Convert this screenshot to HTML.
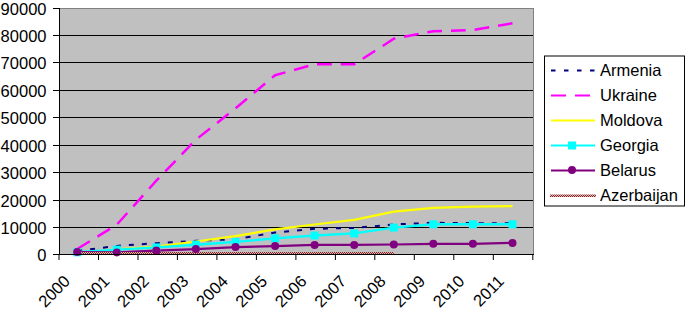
<!DOCTYPE html>
<html><head><meta charset="utf-8"><style>
html,body{margin:0;padding:0;background:#fff;}
body{width:685px;height:311px;overflow:hidden;}
svg{display:block;}
text{font-family:"Liberation Sans",sans-serif;font-size:16.5px;fill:#000;}
</style></head><body>
<svg width="685" height="311" viewBox="0 0 685 311">
<defs>
<pattern id="az" width="2" height="2" patternUnits="userSpaceOnUse">
<rect width="2" height="2" fill="#e8b0b0"/><rect width="1" height="1" fill="#7a2a2a"/><rect x="1" y="1" width="1" height="1" fill="#7a2a2a"/>
</pattern>
</defs>

<rect x="59.5" y="8.5" width="474" height="246" fill="#c0c0c0" stroke="#808080" stroke-width="1"/>
<line x1="59" y1="227.5" x2="533" y2="227.5" stroke="#000" stroke-width="1"/>
<line x1="59" y1="200.5" x2="533" y2="200.5" stroke="#000" stroke-width="1"/>
<line x1="59" y1="172.5" x2="533" y2="172.5" stroke="#000" stroke-width="1"/>
<line x1="59" y1="145.5" x2="533" y2="145.5" stroke="#000" stroke-width="1"/>
<line x1="59" y1="117.5" x2="533" y2="117.5" stroke="#000" stroke-width="1"/>
<line x1="59" y1="90.5" x2="533" y2="90.5" stroke="#000" stroke-width="1"/>
<line x1="59" y1="62.5" x2="533" y2="62.5" stroke="#000" stroke-width="1"/>
<line x1="59" y1="35.5" x2="533" y2="35.5" stroke="#000" stroke-width="1"/>
<line x1="53" y1="254.5" x2="59" y2="254.5" stroke="#000" stroke-width="1"/>
<text x="46.5" y="260.8" text-anchor="end">0</text>
<line x1="53" y1="227.5" x2="59" y2="227.5" stroke="#000" stroke-width="1"/>
<text x="46.5" y="233.8" text-anchor="end">10000</text>
<line x1="53" y1="200.5" x2="59" y2="200.5" stroke="#000" stroke-width="1"/>
<text x="46.5" y="206.8" text-anchor="end">20000</text>
<line x1="53" y1="172.5" x2="59" y2="172.5" stroke="#000" stroke-width="1"/>
<text x="46.5" y="178.8" text-anchor="end">30000</text>
<line x1="53" y1="145.5" x2="59" y2="145.5" stroke="#000" stroke-width="1"/>
<text x="46.5" y="151.8" text-anchor="end">40000</text>
<line x1="53" y1="117.5" x2="59" y2="117.5" stroke="#000" stroke-width="1"/>
<text x="46.5" y="123.8" text-anchor="end">50000</text>
<line x1="53" y1="90.5" x2="59" y2="90.5" stroke="#000" stroke-width="1"/>
<text x="46.5" y="96.8" text-anchor="end">60000</text>
<line x1="53" y1="62.5" x2="59" y2="62.5" stroke="#000" stroke-width="1"/>
<text x="46.5" y="68.8" text-anchor="end">70000</text>
<line x1="53" y1="35.5" x2="59" y2="35.5" stroke="#000" stroke-width="1"/>
<text x="46.5" y="41.8" text-anchor="end">80000</text>
<line x1="53" y1="8.5" x2="59" y2="8.5" stroke="#000" stroke-width="1"/>
<text x="46.5" y="14.8" text-anchor="end">90000</text>
<polyline points="77.2,250.9 116.8,245.9 156.3,243.2 195.9,240.8 235.5,239.2 275.1,232.6 314.6,228.8 354.2,228.0 393.8,224.4 433.3,222.8 472.9,223.1 512.5,223.3" fill="none" stroke="#000080" stroke-width="2" stroke-dasharray="5 8"/>
<polyline points="77.2,249.0 116.8,224.7 156.3,180.7 195.9,139.7 235.5,108.3 275.1,75.2 314.6,64.3 354.2,64.3 393.8,38.8 433.3,31.2 472.9,30.1 512.5,23.3" fill="none" stroke="#ff00ff" stroke-width="2.5" stroke-dasharray="14.8 8.9"/>
<polyline points="77.2,253.4 116.8,249.3 156.3,246.6 195.9,241.5 235.5,236.1 275.1,229.4 314.6,224.5 354.2,219.9 393.8,211.6 433.3,207.9 472.9,206.6 512.5,206.1" fill="none" stroke="#ffff00" stroke-width="2.2"/>
<polyline points="77.2,252.3 116.8,249.6 156.3,247.4 195.9,244.7 235.5,241.9 275.1,238.4 314.6,235.5 354.2,233.4 393.8,227.6 433.3,224.3 472.9,224.3 512.5,224.3" fill="none" stroke="#00ffff" stroke-width="2.4"/>
<polyline points="77.2,252.1 116.8,252.4 156.3,250.6 195.9,249.1 235.5,247.1 275.1,246.1 314.6,244.9 354.2,244.9 393.8,244.5 433.3,243.8 472.9,243.8 512.5,242.9" fill="none" stroke="#800080" stroke-width="2.2"/>
<polyline points="77.2,252.9 116.8,252.9 156.3,252.9 195.9,252.9 235.5,252.9 275.1,252.9 314.6,252.9 354.2,252.9 393.8,252.9" fill="none" stroke="url(#az)" stroke-width="2"/>
<rect x="73.2" y="248.3" width="8" height="8" fill="#00ffff"/>
<rect x="112.8" y="245.6" width="8" height="8" fill="#00ffff"/>
<rect x="152.3" y="243.4" width="8" height="8" fill="#00ffff"/>
<rect x="191.9" y="240.7" width="8" height="8" fill="#00ffff"/>
<rect x="231.5" y="237.9" width="8" height="8" fill="#00ffff"/>
<rect x="271.1" y="234.4" width="8" height="8" fill="#00ffff"/>
<rect x="310.6" y="231.5" width="8" height="8" fill="#00ffff"/>
<rect x="350.2" y="229.4" width="8" height="8" fill="#00ffff"/>
<rect x="389.8" y="223.6" width="8" height="8" fill="#00ffff"/>
<rect x="429.3" y="220.3" width="8" height="8" fill="#00ffff"/>
<rect x="468.9" y="220.3" width="8" height="8" fill="#00ffff"/>
<rect x="508.5" y="220.3" width="8" height="8" fill="#00ffff"/>
<circle cx="77.2" cy="252.1" r="4" fill="#800080"/>
<circle cx="116.8" cy="252.4" r="4" fill="#800080"/>
<circle cx="156.3" cy="250.6" r="4" fill="#800080"/>
<circle cx="195.9" cy="249.1" r="4" fill="#800080"/>
<circle cx="235.5" cy="247.1" r="4" fill="#800080"/>
<circle cx="275.1" cy="246.1" r="4" fill="#800080"/>
<circle cx="314.6" cy="244.9" r="4" fill="#800080"/>
<circle cx="354.2" cy="244.9" r="4" fill="#800080"/>
<circle cx="393.8" cy="244.5" r="4" fill="#800080"/>
<circle cx="433.3" cy="243.8" r="4" fill="#800080"/>
<circle cx="472.9" cy="243.8" r="4" fill="#800080"/>
<circle cx="512.5" cy="242.9" r="4" fill="#800080"/>
<line x1="59.5" y1="8" x2="59.5" y2="255" stroke="#000" stroke-width="1"/>
<line x1="53" y1="254.5" x2="534" y2="254.5" stroke="#000" stroke-width="1"/>
<line x1="59.0" y1="254" x2="59.0" y2="260" stroke="#000" stroke-width="1"/>
<line x1="98.5" y1="254" x2="98.5" y2="260" stroke="#000" stroke-width="1"/>
<line x1="138.0" y1="254" x2="138.0" y2="260" stroke="#000" stroke-width="1"/>
<line x1="177.4" y1="254" x2="177.4" y2="260" stroke="#000" stroke-width="1"/>
<line x1="216.9" y1="254" x2="216.9" y2="260" stroke="#000" stroke-width="1"/>
<line x1="256.4" y1="254" x2="256.4" y2="260" stroke="#000" stroke-width="1"/>
<line x1="295.9" y1="254" x2="295.9" y2="260" stroke="#000" stroke-width="1"/>
<line x1="335.4" y1="254" x2="335.4" y2="260" stroke="#000" stroke-width="1"/>
<line x1="374.8" y1="254" x2="374.8" y2="260" stroke="#000" stroke-width="1"/>
<line x1="414.3" y1="254" x2="414.3" y2="260" stroke="#000" stroke-width="1"/>
<line x1="453.8" y1="254" x2="453.8" y2="260" stroke="#000" stroke-width="1"/>
<line x1="493.3" y1="254" x2="493.3" y2="260" stroke="#000" stroke-width="1"/>
<line x1="532.8" y1="254" x2="532.8" y2="260" stroke="#000" stroke-width="1"/>
<text transform="translate(67.0,278.2) rotate(-45)" text-anchor="end" dy="5.8">2000</text>
<text transform="translate(106.5,278.2) rotate(-45)" text-anchor="end" dy="5.8">2001</text>
<text transform="translate(145.9,278.2) rotate(-45)" text-anchor="end" dy="5.8">2002</text>
<text transform="translate(185.4,278.2) rotate(-45)" text-anchor="end" dy="5.8">2003</text>
<text transform="translate(224.8,278.2) rotate(-45)" text-anchor="end" dy="5.8">2004</text>
<text transform="translate(264.2,278.2) rotate(-45)" text-anchor="end" dy="5.8">2005</text>
<text transform="translate(303.7,278.2) rotate(-45)" text-anchor="end" dy="5.8">2006</text>
<text transform="translate(343.2,278.2) rotate(-45)" text-anchor="end" dy="5.8">2007</text>
<text transform="translate(382.6,278.2) rotate(-45)" text-anchor="end" dy="5.8">2008</text>
<text transform="translate(422.1,278.2) rotate(-45)" text-anchor="end" dy="5.8">2009</text>
<text transform="translate(461.5,278.2) rotate(-45)" text-anchor="end" dy="5.8">2010</text>
<text transform="translate(501.0,278.2) rotate(-45)" text-anchor="end" dy="5.8">2011</text>
<rect x="544.5" y="56" width="140" height="150" fill="#fff" stroke="#000" stroke-width="1"/>
<text x="600" y="76.3">Armenia</text>
<text x="600" y="101.3">Ukraine</text>
<text x="600" y="126.3">Moldova</text>
<text x="600" y="151.3">Georgia</text>
<text x="600" y="176.3">Belarus</text>
<text x="600" y="201.3">Azerbaijan</text>
<line x1="551" y1="70.5" x2="595" y2="70.5" stroke="#000080" stroke-width="2" stroke-dasharray="4.5 8.5"/>
<line x1="551" y1="95.5" x2="595" y2="95.5" stroke="#ff00ff" stroke-width="2" stroke-dasharray="15 9"/>
<line x1="551" y1="120.5" x2="595" y2="120.5" stroke="#ffff00" stroke-width="2"/>
<line x1="551" y1="145.5" x2="595" y2="145.5" stroke="#00ffff" stroke-width="2"/>
<rect x="568" y="141.5" width="8" height="8" fill="#00ffff"/>
<line x1="551" y1="170.5" x2="595" y2="170.5" stroke="#800080" stroke-width="2"/>
<circle cx="572" cy="170" r="4" fill="#800080"/>
<rect x="550" y="194.5" width="46" height="2.5" fill="url(#az)"/>
</svg>
</body></html>
